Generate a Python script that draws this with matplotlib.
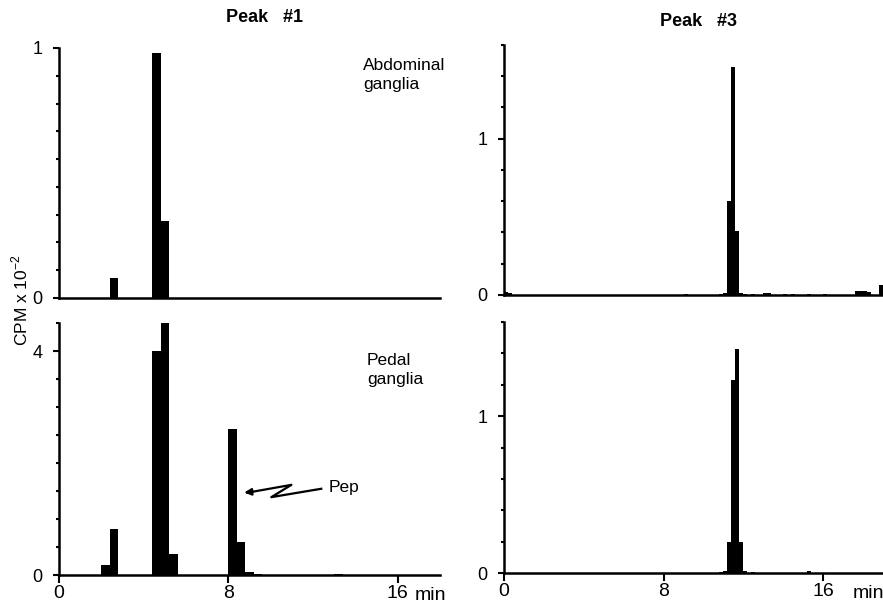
import matplotlib
matplotlib.use("Agg")
import matplotlib.pyplot as plt

plt.rcParams['font.family'] = ['Liberation Sans', 'DejaVu Sans']
plt.rcParams['mathtext.fontset'] = 'custom'
plt.rcParams['mathtext.rm'] = 'Liberation Sans'

# Peak #1 (0.4 min fractions)
abd1_t = [2.4, 4.4, 4.8]
abd1_v = [0.08, 0.98, 0.31]
ped1_t = [2.0, 2.4, 4.4, 4.8, 5.2, 8.0, 8.4, 8.8, 9.2, 13.0]
ped1_v = [0.17, 0.82, 4.0, 4.52, 0.38, 2.61, 0.59, 0.05, 0.01, 0.02]

# Peak #3 (0.2 min fractions)
abd3_t = [0.0, 0.2, 9.0, 10.8, 11.0, 11.2, 11.4, 11.6, 11.8, 12.0, 12.4,
          13.0, 13.2, 14.0, 14.4, 15.2, 16.0, 17.6, 17.8, 18.0, 18.2, 18.8]
abd3_v = [0.02, 0.015, 0.008, 0.008, 0.015, 0.60, 1.46, 0.41, 0.01, 0.008, 0.008,
          0.015, 0.015, 0.008, 0.008, 0.008, 0.008, 0.025, 0.025, 0.025, 0.02, 0.065]
ped3_t = [10.8, 11.0, 11.2, 11.4, 11.6, 11.8, 12.0, 12.4, 15.2]
ped3_v = [0.005, 0.01, 0.20, 1.23, 1.43, 0.20, 0.01, 0.008, 0.012]

fig = plt.figure(figsize=(8.83, 6.05), dpi=100)
W, H = 883, 605


def make_ax(x0, x1, ytop, ybot):
    return fig.add_axes([x0 / W, 1 - ybot / H, (x1 - x0) / W, (ybot - ytop) / H])


ax_tl = make_ax(59, 440, 48, 298)
ax_bl = make_ax(59, 440, 323, 575)
ax_tr = make_ax(504, 883, 45, 295)
ax_br = make_ax(504, 883, 322, 573)

ax_tl.bar(abd1_t, abd1_v, width=0.4, align='edge', color='black', linewidth=0)
ax_bl.bar(ped1_t, ped1_v, width=0.4, align='edge', color='black', linewidth=0)
ax_tr.bar(abd3_t, abd3_v, width=0.2, align='edge', color='black', linewidth=0)
ax_br.bar(ped3_t, ped3_v, width=0.2, align='edge', color='black', linewidth=0)

for ax in (ax_tl, ax_bl, ax_tr, ax_br):
    ax.spines['top'].set_visible(False)
    ax.spines['right'].set_visible(False)
    ax.spines['left'].set_linewidth(1.8)
    ax.spines['bottom'].set_linewidth(1.8)
    ax.tick_params(axis='y', which='major', direction='out', length=4, width=1.5,
                   labelsize=13, pad=8)
    ax.tick_params(axis='y', which='minor', direction='out', length=2.5, width=1.5)
    ax.patch.set_alpha(0)

ax_tl.set_xlim(0, 18)
ax_bl.set_xlim(0, 18)
ax_tr.set_xlim(0, 19)
ax_br.set_xlim(0, 19)

ax_tl.set_ylim(0, 1.0)
ax_tl.set_yticks([0, 1])
ax_tl.set_yticks([i / 9 for i in range(1, 9)], minor=True)

ax_bl.set_ylim(0, 4.5)
ax_bl.set_yticks([0, 4])
ax_bl.set_yticks([0.5, 1, 1.5, 2, 2.5, 3, 3.5, 4.5], minor=True)

for ax in (ax_tr, ax_br):
    ax.set_ylim(0, 1.6)
    ax.set_yticks([0, 1])
    ax.set_yticks([0.2, 0.4, 0.6, 0.8, 1.2, 1.4, 1.6], minor=True)

for ax in (ax_tl, ax_tr):
    ax.set_xticks([])

for ax in (ax_bl, ax_br):
    ax.set_xticks([0, 8, 16])
    ax.set_xticklabels(['0', '8', '16'])
    ax.tick_params(axis='x', direction='out', length=6, width=1.5, labelsize=14, pad=1)

ax_bl.text(16.8, -0.22, 'min', fontsize=14, ha='left', va='top', clip_on=False)
ax_br.text(17.5, -0.078, 'min', fontsize=14, ha='left', va='top', clip_on=False)

fig.text(264 / W, 1 - 18 / H, 'Peak   #1', fontsize=13, fontweight='bold',
         ha='center', va='center')
fig.text(698 / W, 1 - 21 / H, 'Peak   #3', fontsize=13, fontweight='bold',
         ha='center', va='center')

fig.text(363 / W, 1 - 75 / H, 'Abdominal\nganglia', fontsize=12.5, ha='left',
         va='center', linespacing=1.3)
fig.text(367 / W, 1 - 370 / H, 'Pedal\nganglia', fontsize=12.5, ha='left',
         va='center', linespacing=1.3)

fig.text(20 / W, 1 - 300 / H, r'CPM x 10$^{-2}$', fontsize=12.5, rotation=90,
         ha='center', va='center')

# Pep arrow with a zigzag
ax_bl.plot([12.39, 10.03, 10.98, 8.9], [1.54, 1.39, 1.61, 1.47], color='black',
           linewidth=1.6, clip_on=False)
ax_bl.annotate('', xy=(8.62, 1.47), xytext=(9.3, 1.49),
               arrowprops=dict(arrowstyle='-|>', color='black', lw=1.6,
                               mutation_scale=10))
ax_bl.text(12.75, 1.56, 'Pep', fontsize=12.5, ha='left', va='center')

fig.savefig('out.png', dpi=100)
